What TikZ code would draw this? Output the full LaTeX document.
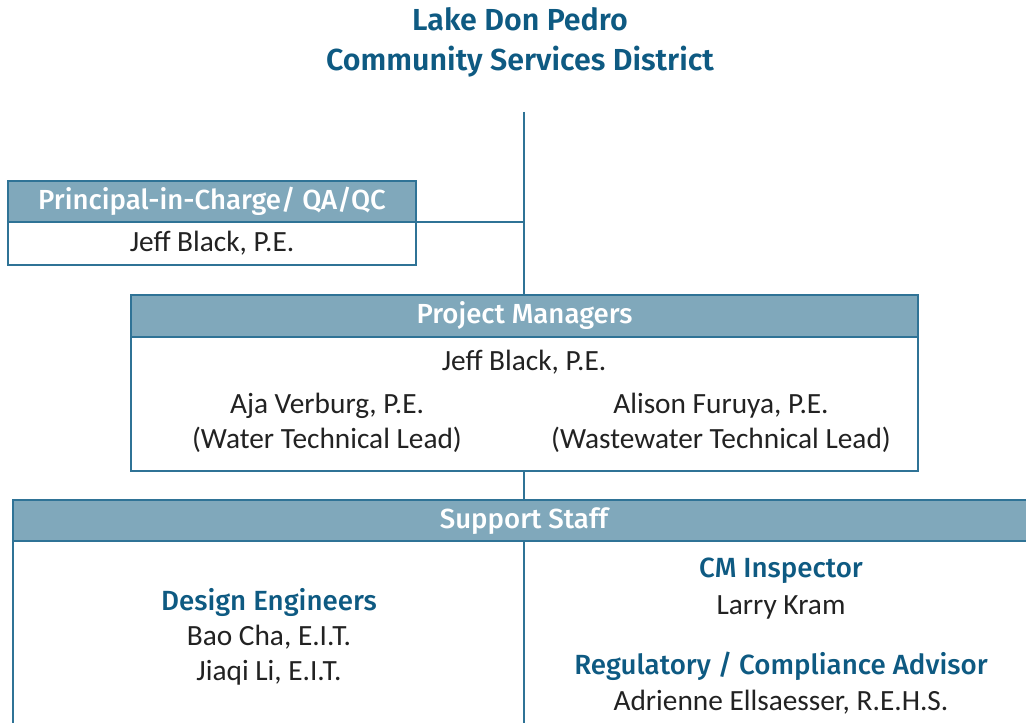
\documentclass[tikz,border=0pt]{standalone}
\usepackage{fontspec}
\setmainfont{Carlito}
\newfontfamily\headfont{Fira Sans Medium}
\newfontfamily\titlefont{Fira Sans SemiBold}
\usetikzlibrary{positioning}

\definecolor{lakeblue}{HTML}{0E5A82}
\definecolor{edgeblue}{HTML}{2F7396}
\definecolor{headfill}{HTML}{80A8BB}
\definecolor{inktext}{HTML}{222222}

\tikzset{
  headbox/.style={draw=edgeblue, fill=headfill, line width=1.5pt, text=white,
    font=\headfont\fontsize{20.7}{24}\selectfont, inner sep=0pt, outer sep=0pt, anchor=north west},
  bodybox/.style={draw=edgeblue, fill=white, line width=1.5pt, inner sep=0pt,
    outer sep=0pt, anchor=north west, text=inktext, font=\fontsize{22}{26}\selectfont},
  personlabel/.style={text=inktext, font=\fontsize{22}{26}\selectfont, inner sep=0pt},
  rolelabel/.style={text=lakeblue, font=\headfont\fontsize{20.8}{24}\selectfont, inner sep=0pt},
  link/.style={draw=edgeblue, line width=1.5pt}
}

\begin{document}
\begin{tikzpicture}[x=0.75pt, y=-0.75pt]
    \useasboundingbox (0,0) rectangle (1026,723);
    \clip (0,0) rectangle (1026,723);

    % district
    \node[align=center, text=lakeblue, font=\titlefont\fontsize{22.8}{30}\selectfont] (lake) at (520,42)
        {Lake Don Pedro\\Community Services District};
    \coordinate (top) at (524,112);

    % principal in charge
    \node[headbox, minimum width=306pt, minimum height=30.75pt] (pichead) at (8,181) {Principal-in-Charge/ QA/QC};
    \node[bodybox, minimum width=306pt, minimum height=32.25pt] (picbody) at (8,222) {Jeff Black, P.E.};

    % project managers
    \node[headbox, minimum width=590.25pt, minimum height=31.5pt] (pmhead) at (131,295) {Project Managers};
    \node[bodybox, minimum width=590.25pt, minimum height=100.5pt] (pmbody) at (131,337) {};
    \node[personlabel] (pmblack) at (524,362) {Jeff Black, P.E.};
    \node[personlabel, align=center] (pmaja) at (327,423) {Aja Verburg, P.E.\\(Water Technical Lead)};
    \node[personlabel, align=center] (pmalison) at (721,423) {Alison Furuya, P.E.\\(Wastewater Technical Lead)};

    % support staff
    \node[headbox, minimum width=772.5pt, minimum height=30.75pt] (sshead) at (13,500) {};
    \node[text=white, font=\headfont\fontsize{20.7}{24}\selectfont] (sstitle) at (524,521) {Support Staff};
    \node[bodybox, minimum width=772.5pt, minimum height=150pt] (ssbody) at (13,541) {};

    \node[rolelabel] (design) at (269,602) {Design Engineers};
    \node[personlabel, align=center] (designers) at (269,655) {Bao Cha, E.I.T.\\Jiaqi Li, E.I.T.};
    \node[rolelabel] (cm) at (781,571) {CM Inspector};
    \node[personlabel] (cmname) at (781,607) {Larry Kram};
    \node[rolelabel] (reg) at (781,666) {Regulatory / Compliance Advisor};
    \node[personlabel] (regname) at (781,702) {Adrienne Ellsaesser, R.E.H.S.};

    % connectors
    \draw[link] (top) -- (pmhead.north -| top);
    \draw[link] (pichead.south east) -- (pichead.south east -| top);
    \draw[link] (pmbody.south -| top) -- (sshead.north -| top);
    \draw[link] (ssbody.north -| top) -- (ssbody.south -| top);
\end{tikzpicture}
\end{document}
